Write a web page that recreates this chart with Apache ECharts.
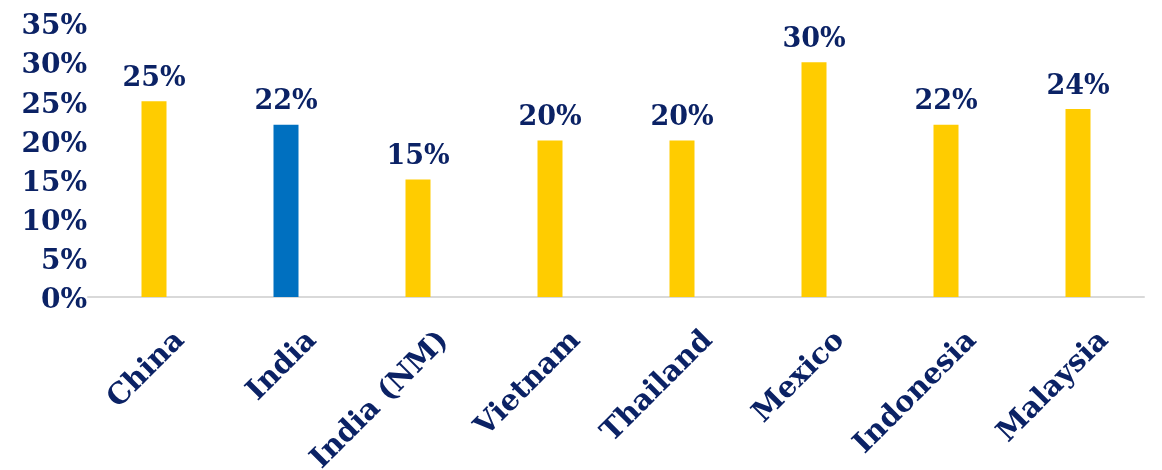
<!DOCTYPE html>
<html>
<head>
<meta charset="utf-8">
<script src="https://cdn.jsdelivr.net/npm/echarts@6/dist/echarts.min.js"></script>
<style>
html,body{margin:0;padding:0;background:#fff;}
#chart{width:1162px;height:470px;}
</style>
</head>
<body>
<div id="chart"></div>
<script>
const categories = ['China','India','India (NM)','Vietnam','Thailand','Mexico','Indonesia','Malaysia'];
const values = [25, 22, 15, 20, 20, 30, 22, 24];
const highlightCategory = 'India';
const yTicks = { min: 0, max: 35, interval: 5 };

const YELLOW = '#FFCC00';
const BLUE = '#0070C0';
const NAVY = '#0B2265';
const FONT = 'DejaVu Serif';

const chart = echarts.init(document.getElementById('chart'), null, {renderer:'canvas'});
chart.setOption({
  animation: false,
  backgroundColor: '#ffffff',
  grid: { left: 88, right: 18, top: 23, bottom: 173, containLabel: false, outerBoundsMode: 'none' },
  xAxis: {
    type: 'category',
    data: categories,
    axisLine: { show: true, lineStyle: { color: '#D9D9D9', width: 2 } },
    axisTick: { show: false },
    axisLabel: {
      rotate: 45,
      margin: 13,
      formatter: function (name) { return '\n' + name; },
      lineHeight: 74,
      color: NAVY,
      fontFamily: FONT,
      fontWeight: 'bold',
      fontSize: 29,
      interval: 0
    }
  },
  yAxis: {
    type: 'value',
    min: yTicks.min, max: yTicks.max, interval: yTicks.interval,
    axisLine: { show: false },
    axisTick: { show: false },
    splitLine: { show: false },
    axisLabel: {
      formatter: function (v) { return '\n' + v + '%'; },
      lineHeight: 8,
      margin: 1,
      color: NAVY,
      fontFamily: FONT,
      fontWeight: 'bold',
      fontSize: 28
    }
  },
  series: [{
    type: 'bar',
    data: values.map((v, i) => ({
      value: v,
      itemStyle: { color: categories[i] === highlightCategory ? BLUE : YELLOW }
    })),
    barWidth: 25,
    label: {
      show: true,
      position: 'top',
      distance: 9,
      formatter: '{c}%',
      color: NAVY,
      fontFamily: FONT,
      fontWeight: 'bold',
      fontSize: 27
    }
  }]
});
</script>
</body>
</html>
